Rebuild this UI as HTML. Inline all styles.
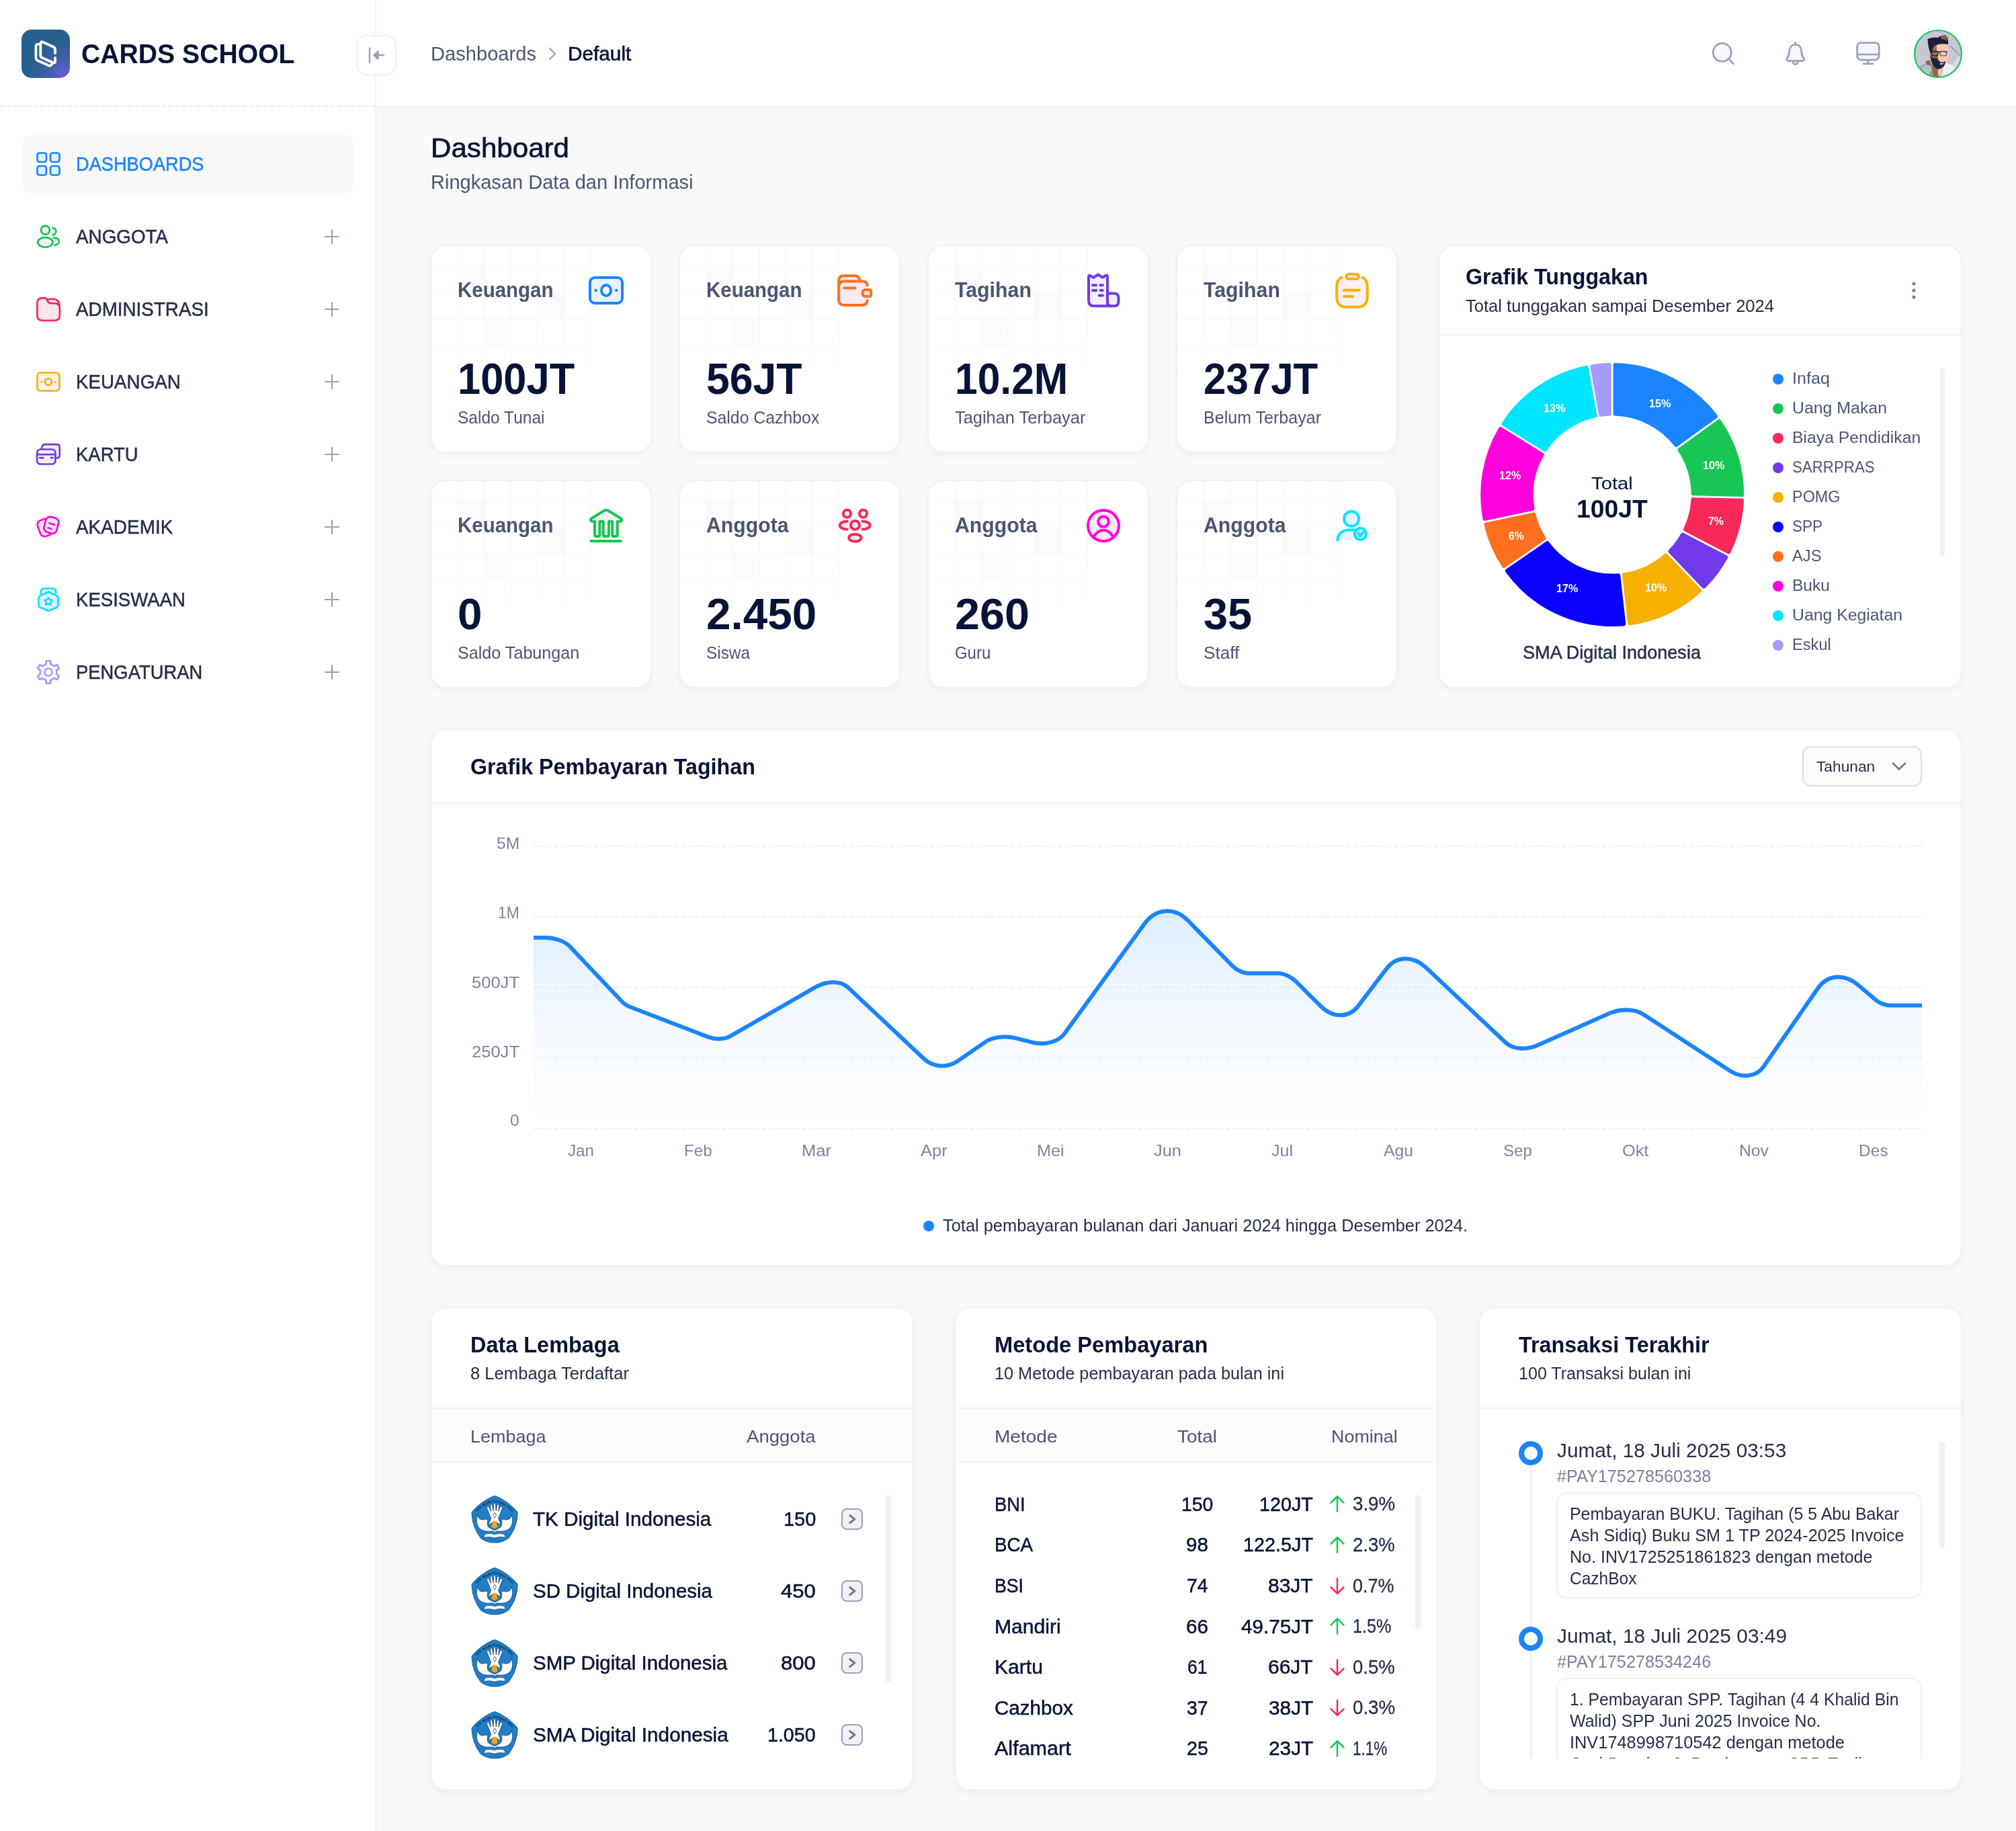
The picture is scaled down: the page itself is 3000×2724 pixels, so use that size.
<!DOCTYPE html>
<html lang="id"><head><meta charset="utf-8"><title>Cards School - Dashboard</title>
<style>
html,body{margin:0;padding:0;width:3000px;height:2724px;overflow:hidden;background:#f9f9f9;font-family:"Liberation Sans",sans-serif}
#root{position:relative;width:3000px;height:2724px;overflow:hidden}
.t{position:absolute;white-space:pre;line-height:1;font-family:"Liberation Sans",sans-serif;transform-origin:0 50%;z-index:2}
.card{position:absolute;background:#fff;border:2px solid #f1f1f4;border-radius:24px;box-shadow:0 6px 8px rgba(0,0,0,.03)}
</style></head><body><div id="root">
<div style="position:absolute;left:0px;top:0px;width:558px;height:2724px;background:#fff;border-right:2px solid #f1f1f4"></div>
<div style="position:absolute;left:560px;top:0px;width:2440px;height:158px;background:#fff;border-bottom:2px solid #f1f1f4"></div>
<div style="position:absolute;left:0;top:157px;width:558px;height:0;border-top:2px dashed #ececf0"></div>
<div style="position:absolute;left:32px;top:44px;width:72px;height:72px;border-radius:15px;background:radial-gradient(circle at 94% 98%,#7558e0 0%,#545dc0 16%,#36609f 36%,#27608f 58%);overflow:hidden"></div>
<svg style="position:absolute;left:32px;top:44px;overflow:visible" width="72" height="72" viewBox="0 0 72 72" fill="none" ><g stroke="#fff" stroke-width="3.8" stroke-linejoin="round" stroke-linecap="round" fill="none">
<path d="M50 35V29.500Q50 26.800 47.500 25.800L31.500 18.600Q28.300 17.300 28.300 20.800V38.500Q28.300 41 30.800 42L47 49.200Q50 50.500 50 47.200V42"/>
<path d="M26.500 21.800H24.500Q21.500 21.800 21.500 24.800V42Q21.500 44.800 24 46L40.500 53.400Q43.500 54.600 44.800 52L45.600 50.500"/>
</g></svg>
<div style="position:absolute;left:530px;top:52px;width:56px;height:56px;border:2px solid #f1f1f4;border-radius:16px;background:#fff"></div>
<svg style="position:absolute;left:546px;top:68px;overflow:visible" width="28" height="28" viewBox="0 0 28 28" fill="none" ><g stroke="#99a1b7" stroke-width="2.4" stroke-linecap="round" stroke-linejoin="round"><path d="M4 3.5V24.5"/><path d="M25 14H11"/><path d="M16.5 8.5L10.5 14L16.5 19.5Z" fill="#99a1b7"/></g></svg>
<div style="position:absolute;left:32px;top:200px;width:496px;height:88px;background:#f9f9f9;border-radius:20px"></div>
<svg style="position:absolute;left:483px;top:341px;overflow:visible" width="22" height="22" viewBox="0 0 22 22" fill="none" ><path d="M11 1V21M1 11H21" stroke="#99a1b7" stroke-width="2.2" stroke-linecap="round"/></svg>
<svg style="position:absolute;left:483px;top:449px;overflow:visible" width="22" height="22" viewBox="0 0 22 22" fill="none" ><path d="M11 1V21M1 11H21" stroke="#99a1b7" stroke-width="2.2" stroke-linecap="round"/></svg>
<svg style="position:absolute;left:483px;top:557px;overflow:visible" width="22" height="22" viewBox="0 0 22 22" fill="none" ><path d="M11 1V21M1 11H21" stroke="#99a1b7" stroke-width="2.2" stroke-linecap="round"/></svg>
<svg style="position:absolute;left:483px;top:665px;overflow:visible" width="22" height="22" viewBox="0 0 22 22" fill="none" ><path d="M11 1V21M1 11H21" stroke="#99a1b7" stroke-width="2.2" stroke-linecap="round"/></svg>
<svg style="position:absolute;left:483px;top:773px;overflow:visible" width="22" height="22" viewBox="0 0 22 22" fill="none" ><path d="M11 1V21M1 11H21" stroke="#99a1b7" stroke-width="2.2" stroke-linecap="round"/></svg>
<svg style="position:absolute;left:483px;top:881px;overflow:visible" width="22" height="22" viewBox="0 0 22 22" fill="none" ><path d="M11 1V21M1 11H21" stroke="#99a1b7" stroke-width="2.2" stroke-linecap="round"/></svg>
<svg style="position:absolute;left:483px;top:989px;overflow:visible" width="22" height="22" viewBox="0 0 22 22" fill="none" ><path d="M11 1V21M1 11H21" stroke="#99a1b7" stroke-width="2.2" stroke-linecap="round"/></svg>
<svg style="position:absolute;left:54px;top:226px;overflow:visible" width="36" height="36" viewBox="0 0 36 36" fill="none" ><g stroke="#1b84ff" stroke-width="2.7" fill="#e3eefd"><rect x="1.5" y="1.5" width="13.5" height="13.5" rx="3.6"/><rect x="21" y="1.5" width="13.5" height="13.5" rx="3.6"/><rect x="1.5" y="21" width="13.5" height="13.5" rx="3.6"/><rect x="21" y="21" width="13.5" height="13.5" rx="3.6"/></g></svg>
<svg style="position:absolute;left:54px;top:334px;overflow:visible" width="36" height="36" viewBox="0 0 36 36" fill="none" ><g stroke="#17c653" stroke-width="2.7" stroke-linecap="round" fill="#f1f1f5"><path d="M24.600 4.900A5.400 5.400 0 0 1 24.600 15.600Z" stroke="none"/><path d="M25.800 19.600Q34 20.500 33.800 25.500Q33.500 30 27.300 30.900Z" stroke="none"/><circle cx="13.500" cy="8.400" r="6.500"/><ellipse cx="13.300" cy="26.500" rx="11.100" ry="7.300"/><path d="M24.600 4.900A5.400 5.400 0 0 1 24.600 15.600" fill="none"/><path d="M25.800 19.600Q34 20.500 33.800 25.500Q33.500 30 27.300 30.900" fill="none"/></g></svg>
<svg style="position:absolute;left:54px;top:442px;overflow:visible" width="36" height="36" viewBox="0 0 36 36" fill="none" ><g stroke="#f8285a" stroke-width="2.7" stroke-linejoin="round" stroke-linecap="round"><path d="M14.800 3.060H26Q33.500 3.060 34.700 13" fill="#fff"/><path d="M1.350 9Q1.350 1.350 9 1.350H12Q15 1.350 16.500 5Q18 9.200 21 9.200H27Q34.800 9.200 34.800 17V27Q34.800 34.800 27 34.800H9Q1.350 34.800 1.350 27Z" fill="#ffe6ee"/></g></svg>
<svg style="position:absolute;left:54px;top:550px;overflow:visible" width="36" height="36" viewBox="0 0 36 36" fill="none" ><g stroke="#f6b100" stroke-width="2.7" fill="#fdf1ee"><rect x="1.500" y="4.500" width="33" height="27" rx="5"/><circle cx="18" cy="18" r="5" fill="none"/></g><circle cx="8" cy="18" r="1.600" fill="#f6b100"/><circle cx="28" cy="18" r="1.600" fill="#f6b100"/></svg>
<svg style="position:absolute;left:54px;top:658px;overflow:visible" width="36" height="36" viewBox="0 0 36 36" fill="none" ><g stroke="#7239ea" stroke-width="2.7" stroke-linejoin="round" stroke-linecap="round" fill="#eef1fc"><path d="M7.800 9.500L8.600 6.500Q9.500 3.200 13 3.200H30.500Q34.750 3.200 34.750 7.500V19.500Q34.750 23.500 30 23.500H28.400"/><rect x="1.100" y="10.500" width="27.300" height="22" rx="5"/><path d="M1.100 18.100H28.400" fill="none"/><path d="M5.100 23.100H10.500M21.900 23.100H24.600" fill="none"/></g></svg>
<svg style="position:absolute;left:54px;top:766px;overflow:visible" width="36" height="36" viewBox="0 0 36 36" fill="none" ><g stroke="#fb00da" stroke-width="2.7" stroke-linejoin="round" stroke-linecap="round" fill="#ffe8f4"><rect x="3.500" y="6.500" width="19" height="25" rx="6.500" transform="rotate(-20 13 19)"/><rect x="12.550" y="3.450" width="19.500" height="23.500" rx="6.500" transform="rotate(15 22.300 15.200)"/><path d="M19.300 12.200L27.300 14.900M17.400 19.100L22.300 21" fill="none"/></g></svg>
<svg style="position:absolute;left:54px;top:874px;overflow:visible" width="36" height="36" viewBox="0 0 36 36" fill="none" ><g stroke="#00e1ff" stroke-width="2.7" stroke-linejoin="round" fill="#e4f1fd"><path d="M7 10V6c0-3 1.500-4.500 4.500-4.500h13c3 0 4.500 1.500 4.500 4.500v4" fill="#eef2f8"/><path d="M18 6.500l12.500 6c1.500 .8 2 1.800 2 3.500v10c0 1.700-.500 2.700-2 3.500l-12.500 5.500-12.500-5.500c-1.500-.8-2-1.800-2-3.500v-10c0-1.700 .5-2.700 2-3.500z"/><path d="M18 15l2 3.300 3.800 .7-2.600 2.900 .5 3.900-3.700-1.700-3.700 1.700 .5-3.900-2.600-2.900 3.800-.7z" fill="#fff" stroke-width="2.600"/></g></svg>
<svg style="position:absolute;left:54px;top:982px;overflow:visible" width="36" height="36" viewBox="0 0 36 36" fill="none" ><g stroke="#a59bff" stroke-width="2.7" stroke-linejoin="round" fill="#f3f4fd"><path d="M14.31 6.06 L15.12 1.25 L20.88 1.25 L21.69 6.06 L26.49 8.83 L31.07 7.13 L33.95 12.11 L30.19 15.23 L30.19 20.77 L33.95 23.89 L31.07 28.87 L26.49 27.17 L21.69 29.94 L20.88 34.75 L15.12 34.75 L14.31 29.94 L9.51 27.17 L4.93 28.87 L2.05 23.89 L5.81 20.77 L5.81 15.23 L2.05 12.11 L4.93 7.13 L9.51 8.83Z" /><circle cx="18" cy="18" r="5.500" fill="#fff"/></g></svg>
<svg style="position:absolute;left:815px;top:70px;overflow:visible" width="14" height="20" viewBox="0 0 14 20" fill="none" ><path d="M3 2L11 10L3 18" stroke="#99a1b7" stroke-width="2.2" stroke-linecap="round" stroke-linejoin="round"/></svg>
<svg style="position:absolute;left:2547px;top:62px;overflow:visible" width="36" height="36" viewBox="0 0 36 36" fill="none" ><g stroke="#99a1b7" stroke-width="2.7" stroke-linecap="round"><circle cx="15.700" cy="15.900" r="13.500" fill="#f8f8fb"/><path d="M25.500 25.800L32.600 33"/></g></svg>
<svg style="position:absolute;left:2654px;top:60px;overflow:visible" width="36" height="40" viewBox="0 0 36 40" fill="none" ><g stroke="#99a1b7" stroke-width="2.7" stroke-linecap="round" stroke-linejoin="round"><path d="M17.700 3V6.500" /><path d="M17.700 6.500c-6 0-9 4.200-9 10 0 4.800-1.400 7.500-3.500 10.300-1.100 1.600-.4 3.800 1.900 3.800H28.300c2.300 0 3-2.200 1.900-3.800-2.100-2.800-3.500-5.500-3.500-10.300C26.700 10.700 23.700 6.500 17.700 6.500z" fill="#f8f8fb"/><path d="M14 31.500c.5 2.800 1.900 4.200 3.700 4.200s3.200-1.400 3.700-4.200"/></g></svg>
<svg style="position:absolute;left:2761px;top:61px;overflow:visible" width="38" height="38" viewBox="0 0 38 38" fill="none" ><g stroke="#99a1b7" stroke-width="2.7" stroke-linecap="round" stroke-linejoin="round"><rect x="2.600" y="2.600" width="32.600" height="25.500" rx="5.500" fill="#f4f5f9"/><path d="M3 20H35"/><path d="M19 28.500V33.500"/><path d="M12 33.800H26"/></g></svg>
<svg style="position:absolute;left:2848px;top:44px;overflow:visible" width="72" height="72" viewBox="0 0 72 72" fill="none" ><defs><clipPath id="avc"><circle cx="36" cy="36" r="34.500"/></clipPath><filter id="avb" x="-10%" y="-10%" width="120%" height="120%"><feGaussianBlur stdDeviation=".7"/></filter></defs>
<g clip-path="url(#avc)"><g filter="url(#avb)">
<rect width="72" height="72" fill="#c5c7d4"/>
<path d="M44 72L72 30V72Z" fill="#d9dbe4"/>
<path d="M54 24L70 40" stroke="#8a8da4" stroke-width="1.400"/>
<path d="M4 72L9 56L24 46L30 58L26 72Z" fill="#8b90a4"/>
<path d="M9 58L22 49L27 60L20 72L6 72Z" fill="#b9bdcb"/>
<path d="M40 72L46 50Q56 50 62 58L66 72Z" fill="#eceef3"/>
<path d="M17.500 47L24 45.500L25 53L20 53Z" fill="#91653f"/>
<path d="M27 52L44 52L41 62L37 72H29L28 62Z" fill="#94663f"/>
<path d="M36 60L44 54L40 66L36 70Z" fill="#f3c9ad"/>
<path d="M24 30Q24 20 36 20Q52 20 52 34Q52 46 46 52Q41 57 36 57Q30 57 26 48Q24 40 24 30Z" fill="#f5c9ab"/>
<path d="M24 30Q24 21 34 20.500Q33 30 36 40Q37 50 34 57Q29 55 26 48Q24 40 24 30Z" fill="#9c6c49"/>
<path d="M24 38Q28 44 33 42Q36 44 38 47Q42 50 47 47Q47 53 42 57Q37 60 32 57Q26 52 24 38Z" fill="#1d2140"/>
<path d="M39 49Q42 51 45 49Q43 53 39 52Z" fill="#f0b9a6"/>
<path d="M20.500 14Q28 11 36 12Q40 8 47 8.500Q52 12 51 22Q47 21 42 21.500Q34 21 30 25Q27 29 27.500 35L24.500 35Q21 26 20.500 14Z" fill="#1a1f3e"/>
<path d="M40 9Q46 8 49 10.500L49.500 18Q46 14 40 14Z" fill="#91602f"/>
<path d="M25 33.500Q31 31 37 33.500Q44 31.500 50 33.500" stroke="#1c2038" stroke-width="1.600" fill="none"/>
<rect x="26.500" y="32.500" width="9.500" height="6.500" rx="2.600" stroke="#1c2038" stroke-width="1.300" fill="none"/><rect x="39" y="32.500" width="9.500" height="6.500" rx="2.600" stroke="#4a4f68" stroke-width="1.100" fill="none"/>
</g></g><circle cx="36" cy="36" r="35" stroke="#17c653" stroke-width="2.200" fill="none"/></svg>
<div class="card" style="left:640px;top:364px;width:326px;height:306px"></div>
<svg style="position:absolute;left:642px;top:366px;overflow:visible" width="237" height="215" viewBox="0 0 237 215" fill="none" ><defs><linearGradient id="gm640_364" x1="0" y1="0" x2="0" y2="1"><stop offset="0" stop-color="#fff" stop-opacity="1"/><stop offset="0.5" stop-color="#fff" stop-opacity="1"/><stop offset="1" stop-color="#fff" stop-opacity="0"/></linearGradient><mask id="mgm640_364"><rect width="237" height="215" fill="url(#gm640_364)"/></mask></defs><g mask="url(#mgm640_364)"><rect x="39.4" y="29.5" width="39.4" height="39.4" fill="#fbfbfd"/><rect x="157.6" y="68.9" width="39.4" height="39.4" fill="#fbfbfd"/><rect x="78.8" y="108.3" width="39.4" height="39.4" fill="#fbfbfd"/><g stroke="#f7f7fa" stroke-width="1.4"><path d="M39.4 0V215" /><path d="M78.8 0V215" /><path d="M118.2 0V215" /><path d="M157.6 0V215" /><path d="M197.0 0V215" /><path d="M236.4 0V215" /><path d="M0 29.5H237" /><path d="M0 68.9H237" /><path d="M0 108.3H237" /><path d="M0 147.7H237" /><path d="M0 187.1H237" /><path d="M0 226.5H237" /></g></g></svg>
<div class="card" style="left:1010px;top:364px;width:326px;height:306px"></div>
<svg style="position:absolute;left:1012px;top:366px;overflow:visible" width="237" height="215" viewBox="0 0 237 215" fill="none" ><defs><linearGradient id="gm1010_364" x1="0" y1="0" x2="0" y2="1"><stop offset="0" stop-color="#fff" stop-opacity="1"/><stop offset="0.5" stop-color="#fff" stop-opacity="1"/><stop offset="1" stop-color="#fff" stop-opacity="0"/></linearGradient><mask id="mgm1010_364"><rect width="237" height="215" fill="url(#gm1010_364)"/></mask></defs><g mask="url(#mgm1010_364)"><rect x="39.4" y="29.5" width="39.4" height="39.4" fill="#fbfbfd"/><rect x="157.6" y="68.9" width="39.4" height="39.4" fill="#fbfbfd"/><rect x="78.8" y="108.3" width="39.4" height="39.4" fill="#fbfbfd"/><g stroke="#f7f7fa" stroke-width="1.4"><path d="M39.4 0V215" /><path d="M78.8 0V215" /><path d="M118.2 0V215" /><path d="M157.6 0V215" /><path d="M197.0 0V215" /><path d="M236.4 0V215" /><path d="M0 29.5H237" /><path d="M0 68.9H237" /><path d="M0 108.3H237" /><path d="M0 147.7H237" /><path d="M0 187.1H237" /><path d="M0 226.5H237" /></g></g></svg>
<div class="card" style="left:1380px;top:364px;width:326px;height:306px"></div>
<svg style="position:absolute;left:1382px;top:366px;overflow:visible" width="237" height="215" viewBox="0 0 237 215" fill="none" ><defs><linearGradient id="gm1380_364" x1="0" y1="0" x2="0" y2="1"><stop offset="0" stop-color="#fff" stop-opacity="1"/><stop offset="0.5" stop-color="#fff" stop-opacity="1"/><stop offset="1" stop-color="#fff" stop-opacity="0"/></linearGradient><mask id="mgm1380_364"><rect width="237" height="215" fill="url(#gm1380_364)"/></mask></defs><g mask="url(#mgm1380_364)"><rect x="39.4" y="29.5" width="39.4" height="39.4" fill="#fbfbfd"/><rect x="157.6" y="68.9" width="39.4" height="39.4" fill="#fbfbfd"/><rect x="78.8" y="108.3" width="39.4" height="39.4" fill="#fbfbfd"/><g stroke="#f7f7fa" stroke-width="1.4"><path d="M39.4 0V215" /><path d="M78.8 0V215" /><path d="M118.2 0V215" /><path d="M157.6 0V215" /><path d="M197.0 0V215" /><path d="M236.4 0V215" /><path d="M0 29.5H237" /><path d="M0 68.9H237" /><path d="M0 108.3H237" /><path d="M0 147.7H237" /><path d="M0 187.1H237" /><path d="M0 226.5H237" /></g></g></svg>
<div class="card" style="left:1750px;top:364px;width:326px;height:306px"></div>
<svg style="position:absolute;left:1752px;top:366px;overflow:visible" width="237" height="215" viewBox="0 0 237 215" fill="none" ><defs><linearGradient id="gm1750_364" x1="0" y1="0" x2="0" y2="1"><stop offset="0" stop-color="#fff" stop-opacity="1"/><stop offset="0.5" stop-color="#fff" stop-opacity="1"/><stop offset="1" stop-color="#fff" stop-opacity="0"/></linearGradient><mask id="mgm1750_364"><rect width="237" height="215" fill="url(#gm1750_364)"/></mask></defs><g mask="url(#mgm1750_364)"><rect x="39.4" y="29.5" width="39.4" height="39.4" fill="#fbfbfd"/><rect x="157.6" y="68.9" width="39.4" height="39.4" fill="#fbfbfd"/><rect x="78.8" y="108.3" width="39.4" height="39.4" fill="#fbfbfd"/><g stroke="#f7f7fa" stroke-width="1.4"><path d="M39.4 0V215" /><path d="M78.8 0V215" /><path d="M118.2 0V215" /><path d="M157.6 0V215" /><path d="M197.0 0V215" /><path d="M236.4 0V215" /><path d="M0 29.5H237" /><path d="M0 68.9H237" /><path d="M0 108.3H237" /><path d="M0 147.7H237" /><path d="M0 187.1H237" /><path d="M0 226.5H237" /></g></g></svg>
<div class="card" style="left:640px;top:714px;width:326px;height:306px"></div>
<svg style="position:absolute;left:642px;top:716px;overflow:visible" width="237" height="215" viewBox="0 0 237 215" fill="none" ><defs><linearGradient id="gm640_714" x1="0" y1="0" x2="0" y2="1"><stop offset="0" stop-color="#fff" stop-opacity="1"/><stop offset="0.5" stop-color="#fff" stop-opacity="1"/><stop offset="1" stop-color="#fff" stop-opacity="0"/></linearGradient><mask id="mgm640_714"><rect width="237" height="215" fill="url(#gm640_714)"/></mask></defs><g mask="url(#mgm640_714)"><rect x="39.4" y="29.5" width="39.4" height="39.4" fill="#fbfbfd"/><rect x="157.6" y="68.9" width="39.4" height="39.4" fill="#fbfbfd"/><rect x="78.8" y="108.3" width="39.4" height="39.4" fill="#fbfbfd"/><g stroke="#f7f7fa" stroke-width="1.4"><path d="M39.4 0V215" /><path d="M78.8 0V215" /><path d="M118.2 0V215" /><path d="M157.6 0V215" /><path d="M197.0 0V215" /><path d="M236.4 0V215" /><path d="M0 29.5H237" /><path d="M0 68.9H237" /><path d="M0 108.3H237" /><path d="M0 147.7H237" /><path d="M0 187.1H237" /><path d="M0 226.5H237" /></g></g></svg>
<div class="card" style="left:1010px;top:714px;width:326px;height:306px"></div>
<svg style="position:absolute;left:1012px;top:716px;overflow:visible" width="237" height="215" viewBox="0 0 237 215" fill="none" ><defs><linearGradient id="gm1010_714" x1="0" y1="0" x2="0" y2="1"><stop offset="0" stop-color="#fff" stop-opacity="1"/><stop offset="0.5" stop-color="#fff" stop-opacity="1"/><stop offset="1" stop-color="#fff" stop-opacity="0"/></linearGradient><mask id="mgm1010_714"><rect width="237" height="215" fill="url(#gm1010_714)"/></mask></defs><g mask="url(#mgm1010_714)"><rect x="39.4" y="29.5" width="39.4" height="39.4" fill="#fbfbfd"/><rect x="157.6" y="68.9" width="39.4" height="39.4" fill="#fbfbfd"/><rect x="78.8" y="108.3" width="39.4" height="39.4" fill="#fbfbfd"/><g stroke="#f7f7fa" stroke-width="1.4"><path d="M39.4 0V215" /><path d="M78.8 0V215" /><path d="M118.2 0V215" /><path d="M157.6 0V215" /><path d="M197.0 0V215" /><path d="M236.4 0V215" /><path d="M0 29.5H237" /><path d="M0 68.9H237" /><path d="M0 108.3H237" /><path d="M0 147.7H237" /><path d="M0 187.1H237" /><path d="M0 226.5H237" /></g></g></svg>
<div class="card" style="left:1380px;top:714px;width:326px;height:306px"></div>
<svg style="position:absolute;left:1382px;top:716px;overflow:visible" width="237" height="215" viewBox="0 0 237 215" fill="none" ><defs><linearGradient id="gm1380_714" x1="0" y1="0" x2="0" y2="1"><stop offset="0" stop-color="#fff" stop-opacity="1"/><stop offset="0.5" stop-color="#fff" stop-opacity="1"/><stop offset="1" stop-color="#fff" stop-opacity="0"/></linearGradient><mask id="mgm1380_714"><rect width="237" height="215" fill="url(#gm1380_714)"/></mask></defs><g mask="url(#mgm1380_714)"><rect x="39.4" y="29.5" width="39.4" height="39.4" fill="#fbfbfd"/><rect x="157.6" y="68.9" width="39.4" height="39.4" fill="#fbfbfd"/><rect x="78.8" y="108.3" width="39.4" height="39.4" fill="#fbfbfd"/><g stroke="#f7f7fa" stroke-width="1.4"><path d="M39.4 0V215" /><path d="M78.8 0V215" /><path d="M118.2 0V215" /><path d="M157.6 0V215" /><path d="M197.0 0V215" /><path d="M236.4 0V215" /><path d="M0 29.5H237" /><path d="M0 68.9H237" /><path d="M0 108.3H237" /><path d="M0 147.7H237" /><path d="M0 187.1H237" /><path d="M0 226.5H237" /></g></g></svg>
<div class="card" style="left:1750px;top:714px;width:326px;height:306px"></div>
<svg style="position:absolute;left:1752px;top:716px;overflow:visible" width="237" height="215" viewBox="0 0 237 215" fill="none" ><defs><linearGradient id="gm1750_714" x1="0" y1="0" x2="0" y2="1"><stop offset="0" stop-color="#fff" stop-opacity="1"/><stop offset="0.5" stop-color="#fff" stop-opacity="1"/><stop offset="1" stop-color="#fff" stop-opacity="0"/></linearGradient><mask id="mgm1750_714"><rect width="237" height="215" fill="url(#gm1750_714)"/></mask></defs><g mask="url(#mgm1750_714)"><rect x="39.4" y="29.5" width="39.4" height="39.4" fill="#fbfbfd"/><rect x="157.6" y="68.9" width="39.4" height="39.4" fill="#fbfbfd"/><rect x="78.8" y="108.3" width="39.4" height="39.4" fill="#fbfbfd"/><g stroke="#f7f7fa" stroke-width="1.4"><path d="M39.4 0V215" /><path d="M78.8 0V215" /><path d="M118.2 0V215" /><path d="M157.6 0V215" /><path d="M197.0 0V215" /><path d="M236.4 0V215" /><path d="M0 29.5H237" /><path d="M0 68.9H237" /><path d="M0 108.3H237" /><path d="M0 147.7H237" /><path d="M0 187.1H237" /><path d="M0 226.5H237" /></g></g></svg>
<svg style="position:absolute;left:876px;top:411px;overflow:visible" width="52" height="42" viewBox="0 0 52 42" fill="none" ><rect x="2" y="2" width="48" height="38" rx="7" stroke="#1b84ff" stroke-width="4" fill="#e9f3ff"/><ellipse cx="26" cy="21" rx="7" ry="8" stroke="#1b84ff" stroke-width="4" fill="#fff"/><circle cx="10.6" cy="21" r="2.2" fill="#1b84ff"/><circle cx="41.2" cy="21" r="2.2" fill="#1b84ff"/></svg>
<svg style="position:absolute;left:1246px;top:408px;overflow:visible" width="52" height="48" viewBox="0 0 52 48" fill="none" ><g stroke="#ff6f1e" stroke-width="4" stroke-linecap="round" stroke-linejoin="round">
<path d="M2.1 17 V9.5 Q2.1 2.2 9.5 2.2 H27 Q31.5 2.5 33.5 9" fill="#ffe9f1"/>
<path d="M44.700 16.500 Q44 10.400 37.500 10.400 H10 Q2.100 10.400 2.100 18 V38 Q2.100 45.900 10 45.900 H37 Q44 45.900 44.700 39" fill="#ffe9f1"/>
<path d="M10.300 20.500H26.400"/>
<path d="M42.500 22.900 H47.600 Q50.100 22.900 50.100 25.400 V30.500 Q50.100 33 47.600 33 H42.500 Q37.600 33 37.600 28 Q37.600 22.900 42.500 22.900Z" fill="#ffe9f1"/>
</g></svg>
<svg style="position:absolute;left:1618px;top:407px;overflow:visible" width="50" height="50" viewBox="0 0 50 50" fill="none" ><g stroke="#7239ea" stroke-width="4" stroke-linecap="round" stroke-linejoin="round">
<path d="M2 40 V5 Q2 1.800 4.500 3 L9 6 L16 1.500 L22.600 5.800 L27.500 2.800 Q30 1.800 30 5 V42 Q30 48.300 36 48.300 H10 Q2 48.300 2 40Z" fill="#eef1fb"/>
<path d="M30 29.500 H40 Q46.500 29.500 46.500 36 V41.500 Q46.500 48.300 40 48.300 H36 Q30 48.300 30 42Z" fill="#eef1fb"/>
<path d="M8 17.200H13.200M19.500 17.200H22.800M8 25H13.200M19.500 25H22.800M17.800 32.600H22.800"/>
</g></svg>
<svg style="position:absolute;left:1987px;top:405px;overflow:visible" width="50" height="54" viewBox="0 0 50 54" fill="none" ><g stroke="#f6b100" stroke-width="4" stroke-linecap="round" stroke-linejoin="round">
<path d="M9.300 7.600 Q2.200 11 2.200 22 V36 Q2.200 51.800 16 51.800 H34 Q47.700 51.800 47.700 36 V22 Q47.700 11 40.600 7.600" fill="#fdeef0"/>
<rect x="16.300" y="2.900" width="18.500" height="7" rx="3.500" fill="#fdeef0"/>
<path d="M12.900 26.800H35.900M12.900 36H25.900"/>
</g></svg>
<svg style="position:absolute;left:877px;top:756px;overflow:visible" width="50" height="52" viewBox="0 0 50 52" fill="none" ><g stroke="#17c653" stroke-width="4" stroke-linecap="round" stroke-linejoin="round">
<path d="M21.500 4 Q25 1.600 28.500 4 L46.500 15 Q49 17 47.500 19 Q46.800 19.800 45 19.800 H41.700 V39.500 Q41.700 42.100 39 42.100 H36.800 Q34.100 42.100 34.100 39.500 V19.800 H29 V39.500 Q29 42.100 26.300 42.100 H23.400 Q20.700 42.100 20.700 39.500 V19.800 H15.400 V39.500 Q15.400 42.100 12.700 42.100 H10.700 Q8 42.100 8 39.500 V19.800 H5 Q3.200 19.800 2.500 19 Q1 17 3.500 15Z" fill="#f1f1f6"/>
<path d="M2.200 49H46.800"/>
</g></svg>
<svg style="position:absolute;left:1247px;top:755px;overflow:visible" width="50" height="54" viewBox="0 0 50 54" fill="none" ><g stroke="#f8285a" stroke-width="4" stroke-linecap="round" fill="#ffe9ef">
<circle cx="13.400" cy="9.200" r="5.600"/><circle cx="37.500" cy="9.200" r="5.600"/>
<path d="M13.800 20.400 A11.200 6 0 0 0 13.800 32.400"/><path d="M36.600 20.400 A11.100 6 0 0 1 36.600 32.400"/>
<circle cx="25.400" cy="26.200" r="6.500"/>
<ellipse cx="25.400" cy="45.100" rx="9.200" ry="5.400"/>
</g></svg>
<svg style="position:absolute;left:1617px;top:756.8px;overflow:visible" width="50" height="50" viewBox="0 0 50 50" fill="none" ><g stroke="#ff00dd" stroke-width="4" stroke-linecap="round" fill="#ffe9f3">
<circle cx="25" cy="25" r="23"/><circle cx="25" cy="19" r="7.800" />
<path d="M10.700 40.800 Q17 31.700 25 31.700 Q33 31.700 39.300 40.800" fill="none"/>
</g></svg>
<svg style="position:absolute;left:1987px;top:757px;overflow:visible" width="50" height="50" viewBox="0 0 50 50" fill="none" ><path d="M3.300 46.500 Q5 31.300 22.300 31.300 H30 V46.500Z" fill="#e9f3ff"/>
<g stroke="#00e5ff" stroke-width="4" stroke-linecap="round" stroke-linejoin="round" fill="#e9f3ff">
<circle cx="24.100" cy="14.800" r="11"/>
<path d="M3.300 46.500 Q5 31.300 22.300 31.300 H28" fill="none"/>
<circle cx="37.500" cy="37.300" r="8.600"/>
<path d="M33.900 36 L37 40.300 L41.500 34.900" fill="none"/>
</g></svg>
<div class="card" style="left:2140px;top:364px;width:776px;height:656px"></div>
<div style="position:absolute;left:2142px;top:497px;width:776px;height:2px;background:#f1f1f4"></div>
<svg style="position:absolute;left:2843px;top:417px;overflow:visible" width="10" height="30" viewBox="0 0 10 30" fill="none" ><circle cx="5" cy="5" r="2.6" fill="#78829d"/><circle cx="5" cy="15" r="2.6" fill="#78829d"/><circle cx="5" cy="25" r="2.6" fill="#78829d"/></svg>
<svg style="position:absolute;left:0;top:0" width="3000" height="1100" viewBox="0 0 3000 1100"><g stroke-width="6.0" stroke-linejoin="round"><path d="M2403.60 543.05 A193.0 193.0 0 0 1 2553.12 619.56 L2494.29 661.99 A120.5 120.5 0 0 0 2403.60 615.58Z" fill="#1b84ff" stroke="#1b84ff"/><path d="M2558.27 626.70 A193.0 193.0 0 0 1 2592.20 735.98 L2519.69 734.33 A120.5 120.5 0 0 0 2499.44 669.13Z" fill="#17c653" stroke="#17c653"/><path d="M2592.00 744.78 A193.0 193.0 0 0 1 2572.38 821.19 L2508.05 787.70 A120.5 120.5 0 0 0 2519.49 743.13Z" fill="#f8285a" stroke="#f8285a"/><path d="M2568.32 829.00 A193.0 193.0 0 0 1 2535.45 872.69 L2485.43 820.17 A120.5 120.5 0 0 0 2503.98 795.51Z" fill="#7239ea" stroke="#7239ea"/><path d="M2529.08 878.76 A193.0 193.0 0 0 1 2425.08 927.26 L2417.00 855.18 A120.5 120.5 0 0 0 2479.06 826.24Z" fill="#f6b100" stroke="#f6b100"/><path d="M2416.34 928.24 A193.0 193.0 0 0 1 2242.87 849.19 L2302.58 808.00 A120.5 120.5 0 0 0 2408.25 856.16Z" fill="#0a00ff" stroke="#0a00ff"/><path d="M2237.88 841.94 A193.0 193.0 0 0 1 2211.38 780.42 L2282.33 765.34 A120.5 120.5 0 0 0 2297.58 800.76Z" fill="#ff6f1e" stroke="#ff6f1e"/><path d="M2209.55 771.81 A193.0 193.0 0 0 1 2232.89 638.06 L2294.54 676.28 A120.5 120.5 0 0 0 2280.50 756.73Z" fill="#fd00dc" stroke="#fd00dc"/><path d="M2237.53 630.58 A193.0 193.0 0 0 1 2360.70 546.88 L2373.55 618.26 A120.5 120.5 0 0 0 2299.17 668.80Z" fill="#00e5ff" stroke="#00e5ff"/><path d="M2369.36 545.32 A193.0 193.0 0 0 1 2394.80 543.05 L2394.80 615.58 A120.5 120.5 0 0 0 2382.21 616.70Z" fill="#a59bff" stroke="#a59bff"/></g></svg>
<div style="position:absolute;left:2638px;top:555.8px;width:16px;height:16px;background:#1b84ff;border-radius:50%"></div>
<div style="position:absolute;left:2638px;top:599.8px;width:16px;height:16px;background:#17c653;border-radius:50%"></div>
<div style="position:absolute;left:2638px;top:643.8px;width:16px;height:16px;background:#f8285a;border-radius:50%"></div>
<div style="position:absolute;left:2638px;top:687.8px;width:16px;height:16px;background:#7239ea;border-radius:50%"></div>
<div style="position:absolute;left:2638px;top:731.8px;width:16px;height:16px;background:#f6b100;border-radius:50%"></div>
<div style="position:absolute;left:2638px;top:775.8px;width:16px;height:16px;background:#0a00ff;border-radius:50%"></div>
<div style="position:absolute;left:2638px;top:819.8px;width:16px;height:16px;background:#ff6f1e;border-radius:50%"></div>
<div style="position:absolute;left:2638px;top:863.8px;width:16px;height:16px;background:#fd00dc;border-radius:50%"></div>
<div style="position:absolute;left:2638px;top:907.8px;width:16px;height:16px;background:#00e5ff;border-radius:50%"></div>
<div style="position:absolute;left:2638px;top:951.8px;width:16px;height:16px;background:#a59bff;border-radius:50%"></div>
<div style="position:absolute;left:2887px;top:548px;width:7px;height:280px;background:#f1f1f4;border-radius:4px"></div>
<div class="card" style="left:640px;top:1084px;width:2276px;height:796px"></div>
<div style="position:absolute;left:642px;top:1194px;width:2276px;height:2px;background:#f1f1f4"></div>
<div style="position:absolute;left:2682px;top:1110px;width:174px;height:56px;border:2px solid #dbdfe9;border-radius:12px;background:#fcfcfc"></div>
<svg style="position:absolute;left:2814px;top:1132px;overflow:visible" width="24" height="16" viewBox="0 0 24 16" fill="none" ><path d="M3 3.500L12 12.500L21 3.500" stroke="#717b95" stroke-width="2.700" stroke-linecap="round" stroke-linejoin="round"/></svg>
<svg style="position:absolute;left:0;top:1200px" width="3000" height="560" viewBox="0 1200 3000 560">
<defs><linearGradient id="lg1" x1="0" y1="1355" x2="0" y2="1679" gradientUnits="userSpaceOnUse"><stop offset="0" stop-color="#1b84ff" stop-opacity="0.15"/><stop offset="0.55" stop-color="#1b84ff" stop-opacity="0.04"/><stop offset="1" stop-color="#1b84ff" stop-opacity="0"/></linearGradient></defs>
<g stroke="#f0f0f4" stroke-width="2" stroke-dasharray="6 4"><path d="M794 1258.7H2860"/><path d="M794 1363.9H2860"/><path d="M794 1468.8H2860"/><path d="M794 1573.7H2860"/><path d="M794 1678.9H2860"/></g>
<path d="M794 1395.1 L813 1395.1 C826.1 1395.1 840.8 1400.6 848 1408.15 L926 1490.5 C928.6 1493.2 933.7 1496.4 938.3 1498.2 L1053.6 1542.6 C1064.4 1546.8 1078.1 1546.4 1086.3 1541.7 L1214.3 1468.2 C1231.2 1458.5 1251.2 1458.8 1262 1469 L1375 1575.3 C1388.5 1588.0 1409.8 1589.3 1425.6 1578.3 L1467.3 1549.4 C1477.2 1542.6 1496.0 1540.5 1512 1544.6 L1535.7 1550.6 C1554.8 1555.4 1575.0 1550.1 1583.8 1538 L1702.9 1374.4 C1720.1 1350.7 1747.6 1348.9 1768.3 1370 L1833.8 1436.9 C1840.0 1443.3 1850.0 1447.9 1857.6 1447.9 L1902.3 1447.9 C1910.3 1447.9 1921.6 1453.3 1929 1460.7 L1964.8 1496.4 C1983.5 1515.0 2007.2 1515.0 2021.3 1496.4 L2063 1441.4 C2077.8 1421.9 2102.7 1421.3 2122.5 1439.9 L2240.5 1551 C2251.0 1560.9 2270.9 1562.6 2288 1555 L2395 1507.6 C2411.7 1500.2 2433.1 1501.0 2446 1509.4 L2573.8 1592.7 C2592.4 1604.8 2613.6 1602.3 2624.4 1586.8 L2704.8 1470.7 C2719.0 1450.1 2744.0 1447.6 2764.3 1464.8 L2791 1487.4 C2796.7 1492.2 2805.5 1495.7 2812 1495.7 L2860 1495.7 L2860 1679 L794 1679Z" fill="url(#lg1)"/>
<path d="M794 1395.1 L813 1395.1 C826.1 1395.1 840.8 1400.6 848 1408.15 L926 1490.5 C928.6 1493.2 933.7 1496.4 938.3 1498.2 L1053.6 1542.6 C1064.4 1546.8 1078.1 1546.4 1086.3 1541.7 L1214.3 1468.2 C1231.2 1458.5 1251.2 1458.8 1262 1469 L1375 1575.3 C1388.5 1588.0 1409.8 1589.3 1425.6 1578.3 L1467.3 1549.4 C1477.2 1542.6 1496.0 1540.5 1512 1544.6 L1535.7 1550.6 C1554.8 1555.4 1575.0 1550.1 1583.8 1538 L1702.9 1374.4 C1720.1 1350.7 1747.6 1348.9 1768.3 1370 L1833.8 1436.9 C1840.0 1443.3 1850.0 1447.9 1857.6 1447.9 L1902.3 1447.9 C1910.3 1447.9 1921.6 1453.3 1929 1460.7 L1964.8 1496.4 C1983.5 1515.0 2007.2 1515.0 2021.3 1496.4 L2063 1441.4 C2077.8 1421.9 2102.7 1421.3 2122.5 1439.9 L2240.5 1551 C2251.0 1560.9 2270.9 1562.6 2288 1555 L2395 1507.6 C2411.7 1500.2 2433.1 1501.0 2446 1509.4 L2573.8 1592.7 C2592.4 1604.8 2613.6 1602.3 2624.4 1586.8 L2704.8 1470.7 C2719.0 1450.1 2744.0 1447.6 2764.3 1464.8 L2791 1487.4 C2796.7 1492.2 2805.5 1495.7 2812 1495.7 L2860 1495.7" stroke="#1b84ff" stroke-width="6" fill="none" stroke-linejoin="round"/>
</svg>
<div style="position:absolute;left:1374px;top:1815.5px;width:16px;height:16px;background:#1b84ff;border-radius:50%"></div>
<div class="card" style="left:640px;top:1944px;width:716px;height:716px"></div>
<div style="position:absolute;left:642px;top:2094px;width:716px;height:2px;background:#f1f1f4"></div>
<div class="card" style="left:1420px;top:1944px;width:716px;height:716px"></div>
<div style="position:absolute;left:1422px;top:2094px;width:716px;height:2px;background:#f1f1f4"></div>
<div class="card" style="left:2200px;top:1944px;width:716px;height:716px"></div>
<div style="position:absolute;left:2202px;top:2094px;width:716px;height:2px;background:#f1f1f4"></div>
<div style="position:absolute;left:642px;top:2096px;width:716px;height:78px;background:#fcfcfc"></div>
<div style="position:absolute;left:642px;top:2174px;width:716px;height:2px;background:#f1f1f4"></div>
<div style="position:absolute;left:1422px;top:2096px;width:716px;height:78px;background:#fcfcfc"></div>
<div style="position:absolute;left:1422px;top:2174px;width:716px;height:2px;background:#f1f1f4"></div>
<svg style="position:absolute;left:701px;top:2224.7px;overflow:visible" width="70" height="70" viewBox="0 0 70 70" fill="none" ><path d="M35.100 5.250A82 82 0 0 1 64.600 26.500A60 60 0 0 1 52.500 60A30.700 30.700 0 0 1 17.700 60A60 60 0 0 1 5.600 26.500A82 82 0 0 1 35.100 5.250Z" fill="#1b3f73" stroke="#1b3f73" stroke-width="10.200" stroke-linejoin="round"/>
<path d="M35.100 5.250A82 82 0 0 1 64.600 26.500A60 60 0 0 1 52.500 60A30.700 30.700 0 0 1 17.700 60A60 60 0 0 1 5.600 26.500A82 82 0 0 1 35.100 5.250Z" fill="#1f7fc9" stroke="#1f7fc9" stroke-width="9" stroke-linejoin="round"/>
<g font-family="Liberation Sans, sans-serif" font-size="5.3" font-weight="700" fill="#16294f"><text x="9.94" y="23.53" text-anchor="middle" transform="rotate(-45.1 9.94 23.53)">T</text><text x="12.59" y="21.02" text-anchor="middle" transform="rotate(-41.7 12.59 21.02)">U</text><text x="15.40" y="18.69" text-anchor="middle" transform="rotate(-37.9 15.40 18.69)">T</text><text x="20.20" y="15.37" text-anchor="middle" transform="rotate(-31.5 20.20 15.37)">W</text><text x="24.17" y="13.19" text-anchor="middle" transform="rotate(-26.1 24.17 13.19)">U</text><text x="27.78" y="11.61" text-anchor="middle" transform="rotate(-21.3 27.78 11.61)">R</text><text x="30.39" y="10.67" text-anchor="middle" transform="rotate(-18.0 30.39 10.67)">I</text><text x="34.60" y="9.51" text-anchor="middle" transform="rotate(-12.9 34.60 9.51)">H</text><text x="38.42" y="10.25" text-anchor="middle" transform="rotate(16.3 38.42 10.25)">A</text><text x="42.16" y="11.51" text-anchor="middle" transform="rotate(21.0 42.16 11.51)">N</text><text x="45.79" y="13.07" text-anchor="middle" transform="rotate(25.7 45.79 13.07)">D</text><text x="49.27" y="14.93" text-anchor="middle" transform="rotate(30.3 49.27 14.93)">A</text><text x="52.47" y="16.97" text-anchor="middle" transform="rotate(34.7 52.47 16.97)">Y</text><text x="55.51" y="19.25" text-anchor="middle" transform="rotate(38.8 55.51 19.25)">A</text><text x="58.50" y="21.83" text-anchor="middle" transform="rotate(42.8 58.50 21.83)">N</text><text x="60.48" y="23.76" text-anchor="middle" transform="rotate(45.4 60.48 23.76)">I</text></g>
<path d="M10 28Q6.500 38 10.500 46Q16 54.500 29 53Q33 52 35.100 55Q37 52 41 53Q54 54.500 59.500 46Q63.500 38 60 28Q59.500 36.500 51.500 36Q47 34.500 45 36.500Q47.500 43 43.500 47.500L35.100 52L26.500 47.500Q22.500 43 25 36.500Q23 34.500 18.500 36Q10.500 36.500 10 28Z" fill="#fff" stroke="#1a2f57" stroke-width=".7"/>
<path d="M23.200 17.500L26.500 15.800L29.200 23.500L28.500 13.500L31.200 12.800L33 23L33.800 11.600L35.100 11.300L36.300 11.600L37.200 23L39 12.800L41.600 13.500L41 23.500L43.700 15.800L47 17.500L40.500 34L44.500 43.500L35.100 38.500L25.500 43.500L29.700 34Z" fill="#fff" stroke="#1a2f57" stroke-width=".7" stroke-linejoin="round"/>
<path d="M35.100 37Q30 42.500 30.800 45.800Q31.700 48.800 35.100 48.800Q38.400 48.800 39.300 45.800Q40.100 42.500 35.100 37Z" fill="#f6a410"/>
<path d="M35.100 25.200L37.600 29.300L35.100 33.200L32.500 29.300Z" fill="#fff" stroke="#1a2f57" stroke-width=".8" stroke-linejoin="round"/>
<path d="M20.500 57.500Q28 55.300 35.100 57.800Q42 55.300 49.700 57.500L51 62.300Q42 60.300 35.100 63Q28 60.300 19.200 62.300Z" fill="#fff" stroke="#1a2f57" stroke-width=".6"/></svg>
<div style="position:absolute;left:1252px;top:2243.7px;width:28px;height:28px;border:2px solid #99a1b7;border-radius:8px;background:#f1f1f4"></div>
<svg style="position:absolute;left:1252px;top:2243.7px;overflow:visible" width="32" height="32" viewBox="0 0 32 32" fill="none" ><path d="M12.800 10.500L19.800 16L12.800 21.500" stroke="#6f7993" stroke-width="3" stroke-linecap="round" stroke-linejoin="round"/></svg>
<svg style="position:absolute;left:701px;top:2331.7px;overflow:visible" width="70" height="70" viewBox="0 0 70 70" fill="none" ><path d="M35.100 5.250A82 82 0 0 1 64.600 26.500A60 60 0 0 1 52.500 60A30.700 30.700 0 0 1 17.700 60A60 60 0 0 1 5.600 26.500A82 82 0 0 1 35.100 5.250Z" fill="#1b3f73" stroke="#1b3f73" stroke-width="10.200" stroke-linejoin="round"/>
<path d="M35.100 5.250A82 82 0 0 1 64.600 26.500A60 60 0 0 1 52.500 60A30.700 30.700 0 0 1 17.700 60A60 60 0 0 1 5.600 26.500A82 82 0 0 1 35.100 5.250Z" fill="#1f7fc9" stroke="#1f7fc9" stroke-width="9" stroke-linejoin="round"/>
<g font-family="Liberation Sans, sans-serif" font-size="5.3" font-weight="700" fill="#16294f"><text x="9.94" y="23.53" text-anchor="middle" transform="rotate(-45.1 9.94 23.53)">T</text><text x="12.59" y="21.02" text-anchor="middle" transform="rotate(-41.7 12.59 21.02)">U</text><text x="15.40" y="18.69" text-anchor="middle" transform="rotate(-37.9 15.40 18.69)">T</text><text x="20.20" y="15.37" text-anchor="middle" transform="rotate(-31.5 20.20 15.37)">W</text><text x="24.17" y="13.19" text-anchor="middle" transform="rotate(-26.1 24.17 13.19)">U</text><text x="27.78" y="11.61" text-anchor="middle" transform="rotate(-21.3 27.78 11.61)">R</text><text x="30.39" y="10.67" text-anchor="middle" transform="rotate(-18.0 30.39 10.67)">I</text><text x="34.60" y="9.51" text-anchor="middle" transform="rotate(-12.9 34.60 9.51)">H</text><text x="38.42" y="10.25" text-anchor="middle" transform="rotate(16.3 38.42 10.25)">A</text><text x="42.16" y="11.51" text-anchor="middle" transform="rotate(21.0 42.16 11.51)">N</text><text x="45.79" y="13.07" text-anchor="middle" transform="rotate(25.7 45.79 13.07)">D</text><text x="49.27" y="14.93" text-anchor="middle" transform="rotate(30.3 49.27 14.93)">A</text><text x="52.47" y="16.97" text-anchor="middle" transform="rotate(34.7 52.47 16.97)">Y</text><text x="55.51" y="19.25" text-anchor="middle" transform="rotate(38.8 55.51 19.25)">A</text><text x="58.50" y="21.83" text-anchor="middle" transform="rotate(42.8 58.50 21.83)">N</text><text x="60.48" y="23.76" text-anchor="middle" transform="rotate(45.4 60.48 23.76)">I</text></g>
<path d="M10 28Q6.500 38 10.500 46Q16 54.500 29 53Q33 52 35.100 55Q37 52 41 53Q54 54.500 59.500 46Q63.500 38 60 28Q59.500 36.500 51.500 36Q47 34.500 45 36.500Q47.500 43 43.500 47.500L35.100 52L26.500 47.500Q22.500 43 25 36.500Q23 34.500 18.500 36Q10.500 36.500 10 28Z" fill="#fff" stroke="#1a2f57" stroke-width=".7"/>
<path d="M23.200 17.500L26.500 15.800L29.200 23.500L28.500 13.500L31.200 12.800L33 23L33.800 11.600L35.100 11.300L36.300 11.600L37.200 23L39 12.800L41.600 13.500L41 23.500L43.700 15.800L47 17.500L40.500 34L44.500 43.500L35.100 38.500L25.500 43.500L29.700 34Z" fill="#fff" stroke="#1a2f57" stroke-width=".7" stroke-linejoin="round"/>
<path d="M35.100 37Q30 42.500 30.800 45.800Q31.700 48.800 35.100 48.800Q38.400 48.800 39.300 45.800Q40.100 42.500 35.100 37Z" fill="#f6a410"/>
<path d="M35.100 25.200L37.600 29.300L35.100 33.200L32.500 29.300Z" fill="#fff" stroke="#1a2f57" stroke-width=".8" stroke-linejoin="round"/>
<path d="M20.500 57.500Q28 55.300 35.100 57.800Q42 55.300 49.700 57.500L51 62.300Q42 60.300 35.100 63Q28 60.300 19.200 62.300Z" fill="#fff" stroke="#1a2f57" stroke-width=".6"/></svg>
<div style="position:absolute;left:1252px;top:2350.7px;width:28px;height:28px;border:2px solid #99a1b7;border-radius:8px;background:#f1f1f4"></div>
<svg style="position:absolute;left:1252px;top:2350.7px;overflow:visible" width="32" height="32" viewBox="0 0 32 32" fill="none" ><path d="M12.800 10.500L19.800 16L12.800 21.500" stroke="#6f7993" stroke-width="3" stroke-linecap="round" stroke-linejoin="round"/></svg>
<svg style="position:absolute;left:701px;top:2438.7px;overflow:visible" width="70" height="70" viewBox="0 0 70 70" fill="none" ><path d="M35.100 5.250A82 82 0 0 1 64.600 26.500A60 60 0 0 1 52.500 60A30.700 30.700 0 0 1 17.700 60A60 60 0 0 1 5.600 26.500A82 82 0 0 1 35.100 5.250Z" fill="#1b3f73" stroke="#1b3f73" stroke-width="10.200" stroke-linejoin="round"/>
<path d="M35.100 5.250A82 82 0 0 1 64.600 26.500A60 60 0 0 1 52.500 60A30.700 30.700 0 0 1 17.700 60A60 60 0 0 1 5.600 26.500A82 82 0 0 1 35.100 5.250Z" fill="#1f7fc9" stroke="#1f7fc9" stroke-width="9" stroke-linejoin="round"/>
<g font-family="Liberation Sans, sans-serif" font-size="5.3" font-weight="700" fill="#16294f"><text x="9.94" y="23.53" text-anchor="middle" transform="rotate(-45.1 9.94 23.53)">T</text><text x="12.59" y="21.02" text-anchor="middle" transform="rotate(-41.7 12.59 21.02)">U</text><text x="15.40" y="18.69" text-anchor="middle" transform="rotate(-37.9 15.40 18.69)">T</text><text x="20.20" y="15.37" text-anchor="middle" transform="rotate(-31.5 20.20 15.37)">W</text><text x="24.17" y="13.19" text-anchor="middle" transform="rotate(-26.1 24.17 13.19)">U</text><text x="27.78" y="11.61" text-anchor="middle" transform="rotate(-21.3 27.78 11.61)">R</text><text x="30.39" y="10.67" text-anchor="middle" transform="rotate(-18.0 30.39 10.67)">I</text><text x="34.60" y="9.51" text-anchor="middle" transform="rotate(-12.9 34.60 9.51)">H</text><text x="38.42" y="10.25" text-anchor="middle" transform="rotate(16.3 38.42 10.25)">A</text><text x="42.16" y="11.51" text-anchor="middle" transform="rotate(21.0 42.16 11.51)">N</text><text x="45.79" y="13.07" text-anchor="middle" transform="rotate(25.7 45.79 13.07)">D</text><text x="49.27" y="14.93" text-anchor="middle" transform="rotate(30.3 49.27 14.93)">A</text><text x="52.47" y="16.97" text-anchor="middle" transform="rotate(34.7 52.47 16.97)">Y</text><text x="55.51" y="19.25" text-anchor="middle" transform="rotate(38.8 55.51 19.25)">A</text><text x="58.50" y="21.83" text-anchor="middle" transform="rotate(42.8 58.50 21.83)">N</text><text x="60.48" y="23.76" text-anchor="middle" transform="rotate(45.4 60.48 23.76)">I</text></g>
<path d="M10 28Q6.500 38 10.500 46Q16 54.500 29 53Q33 52 35.100 55Q37 52 41 53Q54 54.500 59.500 46Q63.500 38 60 28Q59.500 36.500 51.500 36Q47 34.500 45 36.500Q47.500 43 43.500 47.500L35.100 52L26.500 47.500Q22.500 43 25 36.500Q23 34.500 18.500 36Q10.500 36.500 10 28Z" fill="#fff" stroke="#1a2f57" stroke-width=".7"/>
<path d="M23.200 17.500L26.500 15.800L29.200 23.500L28.500 13.500L31.200 12.800L33 23L33.800 11.600L35.100 11.300L36.300 11.600L37.200 23L39 12.800L41.600 13.500L41 23.500L43.700 15.800L47 17.500L40.500 34L44.500 43.500L35.100 38.500L25.500 43.500L29.700 34Z" fill="#fff" stroke="#1a2f57" stroke-width=".7" stroke-linejoin="round"/>
<path d="M35.100 37Q30 42.500 30.800 45.800Q31.700 48.800 35.100 48.800Q38.400 48.800 39.300 45.800Q40.100 42.500 35.100 37Z" fill="#f6a410"/>
<path d="M35.100 25.200L37.600 29.300L35.100 33.200L32.500 29.300Z" fill="#fff" stroke="#1a2f57" stroke-width=".8" stroke-linejoin="round"/>
<path d="M20.500 57.500Q28 55.300 35.100 57.800Q42 55.300 49.700 57.500L51 62.300Q42 60.300 35.100 63Q28 60.300 19.200 62.300Z" fill="#fff" stroke="#1a2f57" stroke-width=".6"/></svg>
<div style="position:absolute;left:1252px;top:2457.7px;width:28px;height:28px;border:2px solid #99a1b7;border-radius:8px;background:#f1f1f4"></div>
<svg style="position:absolute;left:1252px;top:2457.7px;overflow:visible" width="32" height="32" viewBox="0 0 32 32" fill="none" ><path d="M12.800 10.500L19.800 16L12.800 21.500" stroke="#6f7993" stroke-width="3" stroke-linecap="round" stroke-linejoin="round"/></svg>
<svg style="position:absolute;left:701px;top:2545.7px;overflow:visible" width="70" height="70" viewBox="0 0 70 70" fill="none" ><path d="M35.100 5.250A82 82 0 0 1 64.600 26.500A60 60 0 0 1 52.500 60A30.700 30.700 0 0 1 17.700 60A60 60 0 0 1 5.600 26.500A82 82 0 0 1 35.100 5.250Z" fill="#1b3f73" stroke="#1b3f73" stroke-width="10.200" stroke-linejoin="round"/>
<path d="M35.100 5.250A82 82 0 0 1 64.600 26.500A60 60 0 0 1 52.500 60A30.700 30.700 0 0 1 17.700 60A60 60 0 0 1 5.600 26.500A82 82 0 0 1 35.100 5.250Z" fill="#1f7fc9" stroke="#1f7fc9" stroke-width="9" stroke-linejoin="round"/>
<g font-family="Liberation Sans, sans-serif" font-size="5.3" font-weight="700" fill="#16294f"><text x="9.94" y="23.53" text-anchor="middle" transform="rotate(-45.1 9.94 23.53)">T</text><text x="12.59" y="21.02" text-anchor="middle" transform="rotate(-41.7 12.59 21.02)">U</text><text x="15.40" y="18.69" text-anchor="middle" transform="rotate(-37.9 15.40 18.69)">T</text><text x="20.20" y="15.37" text-anchor="middle" transform="rotate(-31.5 20.20 15.37)">W</text><text x="24.17" y="13.19" text-anchor="middle" transform="rotate(-26.1 24.17 13.19)">U</text><text x="27.78" y="11.61" text-anchor="middle" transform="rotate(-21.3 27.78 11.61)">R</text><text x="30.39" y="10.67" text-anchor="middle" transform="rotate(-18.0 30.39 10.67)">I</text><text x="34.60" y="9.51" text-anchor="middle" transform="rotate(-12.9 34.60 9.51)">H</text><text x="38.42" y="10.25" text-anchor="middle" transform="rotate(16.3 38.42 10.25)">A</text><text x="42.16" y="11.51" text-anchor="middle" transform="rotate(21.0 42.16 11.51)">N</text><text x="45.79" y="13.07" text-anchor="middle" transform="rotate(25.7 45.79 13.07)">D</text><text x="49.27" y="14.93" text-anchor="middle" transform="rotate(30.3 49.27 14.93)">A</text><text x="52.47" y="16.97" text-anchor="middle" transform="rotate(34.7 52.47 16.97)">Y</text><text x="55.51" y="19.25" text-anchor="middle" transform="rotate(38.8 55.51 19.25)">A</text><text x="58.50" y="21.83" text-anchor="middle" transform="rotate(42.8 58.50 21.83)">N</text><text x="60.48" y="23.76" text-anchor="middle" transform="rotate(45.4 60.48 23.76)">I</text></g>
<path d="M10 28Q6.500 38 10.500 46Q16 54.500 29 53Q33 52 35.100 55Q37 52 41 53Q54 54.500 59.500 46Q63.500 38 60 28Q59.500 36.500 51.500 36Q47 34.500 45 36.500Q47.500 43 43.500 47.500L35.100 52L26.500 47.500Q22.500 43 25 36.500Q23 34.500 18.500 36Q10.500 36.500 10 28Z" fill="#fff" stroke="#1a2f57" stroke-width=".7"/>
<path d="M23.200 17.500L26.500 15.800L29.200 23.500L28.500 13.500L31.200 12.800L33 23L33.800 11.600L35.100 11.300L36.300 11.600L37.200 23L39 12.800L41.600 13.500L41 23.500L43.700 15.800L47 17.500L40.500 34L44.500 43.500L35.100 38.500L25.500 43.500L29.700 34Z" fill="#fff" stroke="#1a2f57" stroke-width=".7" stroke-linejoin="round"/>
<path d="M35.100 37Q30 42.500 30.800 45.800Q31.700 48.800 35.100 48.800Q38.400 48.800 39.300 45.800Q40.100 42.500 35.100 37Z" fill="#f6a410"/>
<path d="M35.100 25.200L37.600 29.300L35.100 33.200L32.500 29.300Z" fill="#fff" stroke="#1a2f57" stroke-width=".8" stroke-linejoin="round"/>
<path d="M20.500 57.500Q28 55.300 35.100 57.800Q42 55.300 49.700 57.500L51 62.300Q42 60.300 35.100 63Q28 60.300 19.200 62.300Z" fill="#fff" stroke="#1a2f57" stroke-width=".6"/></svg>
<div style="position:absolute;left:1252px;top:2564.7px;width:28px;height:28px;border:2px solid #99a1b7;border-radius:8px;background:#f1f1f4"></div>
<svg style="position:absolute;left:1252px;top:2564.7px;overflow:visible" width="32" height="32" viewBox="0 0 32 32" fill="none" ><path d="M12.800 10.500L19.800 16L12.800 21.500" stroke="#6f7993" stroke-width="3" stroke-linecap="round" stroke-linejoin="round"/></svg>
<div style="position:absolute;left:1318px;top:2224px;width:7.5px;height:279px;background:#f1f1f4;border-radius:4px"></div>
<svg style="position:absolute;left:1978px;top:2224.4px;overflow:visible" width="24" height="26" viewBox="0 0 24 26" fill="none" ><path d="M12 24.500V2.500M2.500 11.700L12 2.200L21.500 11.700" stroke="#17c653" stroke-width="2.500" stroke-linecap="round" stroke-linejoin="round"/></svg>
<svg style="position:absolute;left:1978px;top:2285.0px;overflow:visible" width="24" height="26" viewBox="0 0 24 26" fill="none" ><path d="M12 24.500V2.500M2.500 11.700L12 2.200L21.500 11.700" stroke="#17c653" stroke-width="2.500" stroke-linecap="round" stroke-linejoin="round"/></svg>
<svg style="position:absolute;left:1978px;top:2346.6px;overflow:visible" width="24" height="26" viewBox="0 0 24 26" fill="none" ><path d="M12 1.500V23.500M2.500 14.300L12 23.800L21.500 14.300" stroke="#f8285a" stroke-width="2.500" stroke-linecap="round" stroke-linejoin="round"/></svg>
<svg style="position:absolute;left:1978px;top:2406.2000000000003px;overflow:visible" width="24" height="26" viewBox="0 0 24 26" fill="none" ><path d="M12 24.500V2.500M2.500 11.700L12 2.200L21.500 11.700" stroke="#17c653" stroke-width="2.500" stroke-linecap="round" stroke-linejoin="round"/></svg>
<svg style="position:absolute;left:1978px;top:2467.8px;overflow:visible" width="24" height="26" viewBox="0 0 24 26" fill="none" ><path d="M12 1.500V23.500M2.500 14.300L12 23.800L21.500 14.300" stroke="#f8285a" stroke-width="2.500" stroke-linecap="round" stroke-linejoin="round"/></svg>
<svg style="position:absolute;left:1978px;top:2528.4px;overflow:visible" width="24" height="26" viewBox="0 0 24 26" fill="none" ><path d="M12 1.500V23.500M2.500 14.300L12 23.800L21.500 14.300" stroke="#f8285a" stroke-width="2.500" stroke-linecap="round" stroke-linejoin="round"/></svg>
<svg style="position:absolute;left:1978px;top:2588.0px;overflow:visible" width="24" height="26" viewBox="0 0 24 26" fill="none" ><path d="M12 24.500V2.500M2.500 11.700L12 2.200L21.500 11.700" stroke="#17c653" stroke-width="2.500" stroke-linecap="round" stroke-linejoin="round"/></svg>
<div style="position:absolute;left:2106px;top:2224px;width:7.5px;height:200px;background:#f1f1f4;border-radius:4px"></div>
<div style="position:absolute;left:2277px;top:2162px;width:2px;height:454px;background:#e4e6ee"></div>
<div style="position:absolute;left:2260px;top:2144px;width:20px;height:20px;border:8px solid #1b84ff;border-radius:50%;background:#fff"></div>
<div style="position:absolute;left:2316px;top:2219.7px;width:540px;height:154px;border:2px solid #f1f1f4;border-radius:16px;background:#fff"></div>
<div style="position:absolute;left:2260px;top:2420px;width:20px;height:20px;border:8px solid #1b84ff;border-radius:50%;background:#fff"></div>
<div style="position:absolute;left:2316px;top:2495.7px;width:540px;height:154px;border:2px solid #f1f1f4;border-radius:16px;background:#fff"></div>
<div style="position:absolute;left:2204px;top:2616px;width:712px;height:44px;background:#fff;z-index:5;border-radius:0 0 22px 22px"></div>
<div style="position:absolute;left:2886px;top:2144px;width:7.5px;height:159px;background:#f1f1f4;border-radius:4px"></div>
<span class="t" style="left:120.50px;top:59.89px;font-size:41px;color:#071437;font-weight:700;transform:scaleX(0.9547);">CARDS SCHOOL</span>
<span class="t" style="left:112.70px;top:229.03px;font-size:29.5px;color:#1b84ff;transform:scaleX(0.9223);-webkit-text-stroke:0.5px #1b84ff;">DASHBOARDS</span>
<span class="t" style="left:112.70px;top:337.03px;font-size:29.5px;color:#252f4a;transform:scaleX(0.9427);-webkit-text-stroke:0.5px #252f4a;">ANGGOTA</span>
<span class="t" style="left:112.70px;top:445.03px;font-size:29.5px;color:#252f4a;transform:scaleX(0.9427);-webkit-text-stroke:0.5px #252f4a;">ADMINISTRASI</span>
<span class="t" style="left:112.70px;top:553.03px;font-size:29.5px;color:#252f4a;transform:scaleX(0.9409);-webkit-text-stroke:0.5px #252f4a;">KEUANGAN</span>
<span class="t" style="left:112.70px;top:661.03px;font-size:29.5px;color:#252f4a;transform:scaleX(0.9311);-webkit-text-stroke:0.5px #252f4a;">KARTU</span>
<span class="t" style="left:112.70px;top:769.03px;font-size:29.5px;color:#252f4a;transform:scaleX(0.9464);-webkit-text-stroke:0.5px #252f4a;">AKADEMIK</span>
<span class="t" style="left:112.70px;top:877.03px;font-size:29.5px;color:#252f4a;transform:scaleX(0.9351);-webkit-text-stroke:0.5px #252f4a;">KESISWAAN</span>
<span class="t" style="left:112.70px;top:985.03px;font-size:29.5px;color:#252f4a;transform:scaleX(0.9289);-webkit-text-stroke:0.5px #252f4a;">PENGATURAN</span>
<span class="t" style="left:641.00px;top:65.65px;font-size:29px;color:#4b5675;transform:scaleX(1.0040);">Dashboards</span>
<span class="t" style="left:845.00px;top:65.65px;font-size:29px;color:#071437;transform:scaleX(1.0262);-webkit-text-stroke:0.6px #071437;">Default</span>
<span class="t" style="left:641.00px;top:199.84px;font-size:41.3px;color:#071437;transform:scaleX(1.0196);-webkit-text-stroke:0.7px #071437;">Dashboard</span>
<span class="t" style="left:641.00px;top:255.93px;font-size:29.5px;color:#4b5675;transform:scaleX(0.9841);">Ringkasan Data dan Informasi</span>
<span class="t" style="left:681.40px;top:415.80px;font-size:31.3px;color:#4b5675;font-weight:700;transform:scaleX(0.9412);">Keuangan</span>
<span class="t" style="left:681.00px;top:532.25px;font-size:64.2px;color:#071437;font-weight:700;transform:scaleX(0.9571);">100JT</span>
<span class="t" style="left:681.40px;top:608.84px;font-size:25px;color:#4b5675;transform:scaleX(0.9807);">Saldo Tunai</span>
<span class="t" style="left:1051.40px;top:415.80px;font-size:31.3px;color:#4b5675;font-weight:700;transform:scaleX(0.9412);">Keuangan</span>
<span class="t" style="left:1051.00px;top:532.25px;font-size:64.2px;color:#071437;font-weight:700;transform:scaleX(0.9739);">56JT</span>
<span class="t" style="left:1051.40px;top:608.84px;font-size:25px;color:#4b5675;transform:scaleX(0.9926);">Saldo Cazhbox</span>
<span class="t" style="left:1421.40px;top:415.80px;font-size:31.3px;color:#4b5675;font-weight:700;transform:scaleX(0.9681);">Tagihan</span>
<span class="t" style="left:1421.00px;top:532.25px;font-size:64.2px;color:#071437;font-weight:700;transform:scaleX(0.9434);">10.2M</span>
<span class="t" style="left:1421.40px;top:608.84px;font-size:25px;color:#4b5675;transform:scaleX(1.0160);">Tagihan Terbayar</span>
<span class="t" style="left:1791.40px;top:415.80px;font-size:31.3px;color:#4b5675;font-weight:700;transform:scaleX(0.9681);">Tagihan</span>
<span class="t" style="left:1791.00px;top:532.25px;font-size:64.2px;color:#071437;font-weight:700;transform:scaleX(0.9351);">237JT</span>
<span class="t" style="left:1791.40px;top:608.84px;font-size:25px;color:#4b5675;transform:scaleX(1.0021);">Belum Terbayar</span>
<span class="t" style="left:681.40px;top:765.80px;font-size:31.3px;color:#4b5675;font-weight:700;transform:scaleX(0.9412);">Keuangan</span>
<span class="t" style="left:681.00px;top:882.25px;font-size:64.2px;color:#071437;font-weight:700;transform:scaleX(1.0223);">0</span>
<span class="t" style="left:681.40px;top:958.84px;font-size:25px;color:#4b5675;transform:scaleX(1.0057);">Saldo Tabungan</span>
<span class="t" style="left:1051.40px;top:765.80px;font-size:31.3px;color:#4b5675;font-weight:700;transform:scaleX(0.9661);">Anggota</span>
<span class="t" style="left:1051.00px;top:882.25px;font-size:64.2px;color:#071437;font-weight:700;transform:scaleX(1.0228);">2.450</span>
<span class="t" style="left:1051.40px;top:958.84px;font-size:25px;color:#4b5675;transform:scaleX(0.9747);">Siswa</span>
<span class="t" style="left:1421.40px;top:765.80px;font-size:31.3px;color:#4b5675;font-weight:700;transform:scaleX(0.9661);">Anggota</span>
<span class="t" style="left:1421.00px;top:882.25px;font-size:64.2px;color:#071437;font-weight:700;transform:scaleX(1.0363);">260</span>
<span class="t" style="left:1421.40px;top:958.84px;font-size:25px;color:#4b5675;transform:scaleX(0.9569);">Guru</span>
<span class="t" style="left:1791.40px;top:765.80px;font-size:31.3px;color:#4b5675;font-weight:700;transform:scaleX(0.9661);">Anggota</span>
<span class="t" style="left:1791.00px;top:882.25px;font-size:64.2px;color:#071437;font-weight:700;transform:scaleX(1.0111);">35</span>
<span class="t" style="left:1791.40px;top:958.84px;font-size:25px;color:#4b5675;transform:scaleX(1.0438);">Staff</span>
<span class="t" style="left:2181.00px;top:395.19px;font-size:33.8px;color:#071437;font-weight:700;transform:scaleX(0.9532);">Grafik Tunggakan</span>
<span class="t" style="left:2181.00px;top:442.81px;font-size:25.5px;color:#252f4a;transform:scaleX(1.0025);">Total tunggakan sampai Desember 2024</span>
<span class="t" style="left:2453.90px;top:591.83px;font-size:16.5px;color:#fff;font-weight:700;transform:scaleX(0.9809);">15%</span>
<span class="t" style="left:2534.20px;top:684.43px;font-size:16.5px;color:#fff;font-weight:700;transform:scaleX(0.9809);">10%</span>
<span class="t" style="left:2542.40px;top:766.83px;font-size:16.5px;color:#fff;font-weight:700;transform:scaleX(0.9640);">7%</span>
<span class="t" style="left:2448.20px;top:866.43px;font-size:16.5px;color:#fff;font-weight:700;transform:scaleX(0.9809);">10%</span>
<span class="t" style="left:2316.40px;top:866.83px;font-size:16.5px;color:#fff;font-weight:700;transform:scaleX(0.9809);">17%</span>
<span class="t" style="left:2244.70px;top:788.73px;font-size:16.5px;color:#fff;font-weight:700;transform:scaleX(0.9640);">6%</span>
<span class="t" style="left:2231.30px;top:698.83px;font-size:16.5px;color:#fff;font-weight:700;transform:scaleX(0.9809);">12%</span>
<span class="t" style="left:2297.20px;top:599.23px;font-size:16.5px;color:#fff;font-weight:700;transform:scaleX(0.9809);">13%</span>
<span class="t" style="left:2368.30px;top:705.89px;font-size:26px;color:#071437;transform:scaleX(1.1252);">Total</span>
<span class="t" style="left:2345.80px;top:738.68px;font-size:37px;color:#071437;font-weight:700;transform:scaleX(1.0084);">100JT</span>
<span class="t" style="left:2265.50px;top:957.94px;font-size:27px;color:#252f4a;transform:scaleX(1.0032);-webkit-text-stroke:0.5px #252f4a;">SMA Digital Indonesia</span>
<span class="t" style="left:2666.50px;top:551.39px;font-size:24.7px;color:#4b5675;transform:scaleX(1.0178);">Infaq</span>
<span class="t" style="left:2666.50px;top:595.39px;font-size:24.7px;color:#4b5675;transform:scaleX(1.0073);">Uang Makan</span>
<span class="t" style="left:2666.50px;top:639.39px;font-size:24.7px;color:#4b5675;transform:scaleX(1.0025);">Biaya Pendidikan</span>
<span class="t" style="left:2666.50px;top:683.39px;font-size:24.7px;color:#4b5675;transform:scaleX(0.9033);">SARRPRAS</span>
<span class="t" style="left:2666.50px;top:727.39px;font-size:24.7px;color:#4b5675;transform:scaleX(0.9491);">POMG</span>
<span class="t" style="left:2666.50px;top:771.39px;font-size:24.7px;color:#4b5675;transform:scaleX(0.9108);">SPP</span>
<span class="t" style="left:2666.50px;top:815.39px;font-size:24.7px;color:#4b5675;transform:scaleX(0.9629);">AJS</span>
<span class="t" style="left:2666.50px;top:859.39px;font-size:24.7px;color:#4b5675;transform:scaleX(0.9932);">Buku</span>
<span class="t" style="left:2666.50px;top:903.39px;font-size:24.7px;color:#4b5675;transform:scaleX(1.0046);">Uang Kegiatan</span>
<span class="t" style="left:2666.50px;top:947.39px;font-size:24.7px;color:#4b5675;transform:scaleX(0.9573);">Eskul</span>
<span class="t" style="left:700.40px;top:1123.69px;font-size:33.8px;color:#071437;font-weight:700;transform:scaleX(0.9534);">Grafik Pembayaran Tagihan</span>
<span class="t" style="left:2703.00px;top:1129.18px;font-size:22.7px;color:#252f4a;transform:scaleX(1.0025);">Tahunan</span>
<span class="t" style="left:738.70px;top:1242.86px;font-size:24.5px;color:#7b859f;transform:scaleX(1.0074);">5M</span>
<span class="t" style="left:741.20px;top:1346.26px;font-size:24.5px;color:#7b859f;transform:scaleX(0.9340);">1M</span>
<span class="t" style="left:702.00px;top:1449.56px;font-size:24.5px;color:#7b859f;transform:scaleX(1.0427);">500JT</span>
<span class="t" style="left:702.00px;top:1552.66px;font-size:24.5px;color:#7b859f;transform:scaleX(1.0427);">250JT</span>
<span class="t" style="left:759.20px;top:1655.06px;font-size:24.5px;color:#7b859f;transform:scaleX(1.0117);">0</span>
<span class="t" style="left:845.05px;top:1699.96px;font-size:24.5px;color:#7b859f;transform:scaleX(0.9895);">Jan</span>
<span class="t" style="left:1018.15px;top:1699.96px;font-size:24.5px;color:#7b859f;transform:scaleX(0.9877);">Feb</span>
<span class="t" style="left:1192.60px;top:1699.96px;font-size:24.5px;color:#7b859f;transform:scaleX(1.0426);">Mar</span>
<span class="t" style="left:1369.65px;top:1699.96px;font-size:24.5px;color:#7b859f;transform:scaleX(1.0461);">Apr</span>
<span class="t" style="left:1542.65px;top:1699.96px;font-size:24.5px;color:#7b859f;transform:scaleX(1.0257);">Mei</span>
<span class="t" style="left:1716.80px;top:1699.96px;font-size:24.5px;color:#7b859f;transform:scaleX(1.0376);">Jun</span>
<span class="t" style="left:1892.30px;top:1699.96px;font-size:24.5px;color:#7b859f;transform:scaleX(1.0214);">Jul</span>
<span class="t" style="left:2059.00px;top:1699.96px;font-size:24.5px;color:#7b859f;transform:scaleX(1.0093);">Agu</span>
<span class="t" style="left:2236.85px;top:1699.96px;font-size:24.5px;color:#7b859f;transform:scaleX(0.9841);">Sep</span>
<span class="t" style="left:2414.25px;top:1699.96px;font-size:24.5px;color:#7b859f;transform:scaleX(1.0308);">Okt</span>
<span class="t" style="left:2588.00px;top:1699.96px;font-size:24.5px;color:#7b859f;transform:scaleX(1.0097);">Nov</span>
<span class="t" style="left:2766.25px;top:1699.96px;font-size:24.5px;color:#7b859f;transform:scaleX(1.0025);">Des</span>
<span class="t" style="left:1402.70px;top:1810.67px;font-size:25.2px;color:#252f4a;transform:scaleX(1.0086);">Total pembayaran bulanan dari Januari 2024 hingga Desember 2024.</span>
<span class="t" style="left:700.40px;top:1983.59px;font-size:33.8px;color:#071437;font-weight:700;transform:scaleX(0.9596);">Data Lembaga</span>
<span class="t" style="left:700.40px;top:2031.11px;font-size:25.5px;color:#252f4a;transform:scaleX(1.0049);">8 Lembaga Terdaftar</span>
<span class="t" style="left:700.40px;top:2124.29px;font-size:26px;color:#4b5675;transform:scaleX(1.0367);">Lembaga</span>
<span class="t" style="left:1110.90px;top:2124.29px;font-size:26px;color:#4b5675;transform:scaleX(1.0601);">Anggota</span>
<span class="t" style="left:792.50px;top:2245.82px;font-size:28.8px;color:#071437;transform:scaleX(1.0294);-webkit-text-stroke:0.5px #071437;">TK Digital Indonesia</span>
<span class="t" style="left:1165.70px;top:2245.82px;font-size:28.8px;color:#071437;transform:scaleX(1.0053);-webkit-text-stroke:0.5px #071437;">150</span>
<span class="t" style="left:792.50px;top:2352.82px;font-size:28.8px;color:#071437;transform:scaleX(1.0233);-webkit-text-stroke:0.5px #071437;">SD Digital Indonesia</span>
<span class="t" style="left:1162.20px;top:2352.82px;font-size:28.8px;color:#071437;transform:scaleX(1.0781);-webkit-text-stroke:0.5px #071437;">450</span>
<span class="t" style="left:792.50px;top:2459.82px;font-size:28.8px;color:#071437;transform:scaleX(1.0233);-webkit-text-stroke:0.5px #071437;">SMP Digital Indonesia</span>
<span class="t" style="left:1162.20px;top:2459.82px;font-size:28.8px;color:#071437;transform:scaleX(1.0781);-webkit-text-stroke:0.5px #071437;">800</span>
<span class="t" style="left:792.50px;top:2566.82px;font-size:28.8px;color:#071437;transform:scaleX(1.0318);-webkit-text-stroke:0.5px #071437;">SMA Digital Indonesia</span>
<span class="t" style="left:1142.40px;top:2566.82px;font-size:28.8px;color:#071437;transform:scaleX(0.9934);-webkit-text-stroke:0.5px #071437;">1.050</span>
<span class="t" style="left:1480.40px;top:1983.59px;font-size:33.8px;color:#071437;font-weight:700;transform:scaleX(0.9656);">Metode Pembayaran</span>
<span class="t" style="left:1480.40px;top:2031.11px;font-size:25.5px;color:#252f4a;transform:scaleX(0.9903);">10 Metode pembayaran pada bulan ini</span>
<span class="t" style="left:1480.40px;top:2124.29px;font-size:26px;color:#4b5675;transform:scaleX(1.0780);">Metode</span>
<span class="t" style="left:1752.00px;top:2124.29px;font-size:26px;color:#4b5675;transform:scaleX(1.0743);">Total</span>
<span class="t" style="left:1980.50px;top:2124.29px;font-size:26px;color:#4b5675;transform:scaleX(1.0349);">Nominal</span>
<span class="t" style="left:1480.40px;top:2223.85px;font-size:29px;color:#071437;transform:scaleX(0.9453);-webkit-text-stroke:0.5px #071437;">BNI</span>
<span class="t" style="left:1757.80px;top:2223.85px;font-size:29px;color:#071437;transform:scaleX(0.9795);-webkit-text-stroke:0.5px #071437;">150</span>
<span class="t" style="left:1874.10px;top:2223.85px;font-size:29px;color:#071437;transform:scaleX(0.9912);-webkit-text-stroke:0.5px #071437;">120JT</span>
<span class="t" style="left:2013.00px;top:2223.35px;font-size:29px;color:#252f4a;transform:scaleX(0.9560);-webkit-text-stroke:0.3px #252f4a;">3.9%</span>
<span class="t" style="left:1480.40px;top:2284.45px;font-size:29px;color:#071437;transform:scaleX(0.9574);-webkit-text-stroke:0.5px #071437;">BCA</span>
<span class="t" style="left:1765.05px;top:2284.45px;font-size:29px;color:#071437;transform:scaleX(1.0197);-webkit-text-stroke:0.5px #071437;">98</span>
<span class="t" style="left:1850.00px;top:2284.45px;font-size:29px;color:#071437;transform:scaleX(0.9924);-webkit-text-stroke:0.5px #071437;">122.5JT</span>
<span class="t" style="left:2013.00px;top:2283.95px;font-size:29px;color:#252f4a;transform:scaleX(0.9499);-webkit-text-stroke:0.3px #252f4a;">2.3%</span>
<span class="t" style="left:1480.40px;top:2345.05px;font-size:29px;color:#071437;transform:scaleX(0.9198);-webkit-text-stroke:0.5px #071437;">BSI</span>
<span class="t" style="left:1765.70px;top:2345.05px;font-size:29px;color:#071437;transform:scaleX(0.9794);-webkit-text-stroke:0.5px #071437;">74</span>
<span class="t" style="left:1887.30px;top:2345.05px;font-size:29px;color:#071437;transform:scaleX(1.0344);-webkit-text-stroke:0.5px #071437;">83JT</span>
<span class="t" style="left:2013.00px;top:2344.55px;font-size:29px;color:#252f4a;transform:scaleX(0.9303);-webkit-text-stroke:0.3px #252f4a;">0.7%</span>
<span class="t" style="left:1480.40px;top:2405.65px;font-size:29px;color:#071437;transform:scaleX(1.0390);-webkit-text-stroke:0.5px #071437;">Mandiri</span>
<span class="t" style="left:1765.05px;top:2405.65px;font-size:29px;color:#071437;transform:scaleX(1.0197);-webkit-text-stroke:0.5px #071437;">66</span>
<span class="t" style="left:1846.90px;top:2405.65px;font-size:29px;color:#071437;transform:scaleX(1.0220);-webkit-text-stroke:0.5px #071437;">49.75JT</span>
<span class="t" style="left:2013.00px;top:2405.15px;font-size:29px;color:#252f4a;transform:scaleX(0.8698);-webkit-text-stroke:0.3px #252f4a;">1.5%</span>
<span class="t" style="left:1480.40px;top:2466.25px;font-size:29px;color:#071437;transform:scaleX(1.0385);-webkit-text-stroke:0.5px #071437;">Kartu</span>
<span class="t" style="left:1766.80px;top:2466.25px;font-size:29px;color:#071437;transform:scaleX(0.9112);-webkit-text-stroke:0.5px #071437;">61</span>
<span class="t" style="left:1887.30px;top:2466.25px;font-size:29px;color:#071437;transform:scaleX(1.0344);-webkit-text-stroke:0.5px #071437;">66JT</span>
<span class="t" style="left:2013.00px;top:2465.75px;font-size:29px;color:#252f4a;transform:scaleX(0.9499);-webkit-text-stroke:0.3px #252f4a;">0.5%</span>
<span class="t" style="left:1480.40px;top:2526.85px;font-size:29px;color:#071437;transform:scaleX(1.0204);-webkit-text-stroke:0.5px #071437;">Cazhbox</span>
<span class="t" style="left:1765.70px;top:2526.85px;font-size:29px;color:#071437;transform:scaleX(0.9794);-webkit-text-stroke:0.5px #071437;">37</span>
<span class="t" style="left:1887.70px;top:2526.85px;font-size:29px;color:#071437;transform:scaleX(1.0282);-webkit-text-stroke:0.5px #071437;">38JT</span>
<span class="t" style="left:2013.00px;top:2526.35px;font-size:29px;color:#252f4a;transform:scaleX(0.9560);-webkit-text-stroke:0.3px #252f4a;">0.3%</span>
<span class="t" style="left:1480.40px;top:2587.45px;font-size:29px;color:#071437;transform:scaleX(1.0529);-webkit-text-stroke:0.5px #071437;">Alfamart</span>
<span class="t" style="left:1765.50px;top:2587.45px;font-size:29px;color:#071437;transform:scaleX(0.9918);-webkit-text-stroke:0.5px #071437;">25</span>
<span class="t" style="left:1887.70px;top:2587.45px;font-size:29px;color:#071437;transform:scaleX(1.0282);-webkit-text-stroke:0.5px #071437;">23JT</span>
<span class="t" style="left:2013.00px;top:2586.95px;font-size:29px;color:#252f4a;transform:scaleX(0.7775);-webkit-text-stroke:0.3px #252f4a;">1.1%</span>
<span class="t" style="left:2260.40px;top:1983.59px;font-size:33.8px;color:#071437;font-weight:700;transform:scaleX(0.9575);">Transaksi Terakhir</span>
<span class="t" style="left:2260.40px;top:2031.11px;font-size:25.5px;color:#252f4a;transform:scaleX(0.9830);">100 Transaksi bulan ini</span>
<span class="t" style="left:2316.50px;top:2143.35px;font-size:30.3px;color:#252f4a;transform:scaleX(0.9834);">Jumat, 18 Juli 2025 03:53</span>
<span class="t" style="left:2316.50px;top:2183.81px;font-size:25.5px;color:#78829d;transform:scaleX(0.9896);">#PAY175278560338</span>
<span class="t" style="left:2336.30px;top:2239.58px;font-size:25.3px;color:#252f4a;transform:scaleX(0.9853);">Pembayaran BUKU. Tagihan (5 5 Abu Bakar</span>
<span class="t" style="left:2336.30px;top:2271.58px;font-size:25.3px;color:#252f4a;transform:scaleX(0.9956);">Ash Sidiq) Buku SM 1 TP 2024-2025 Invoice</span>
<span class="t" style="left:2336.30px;top:2303.58px;font-size:25.3px;color:#252f4a;transform:scaleX(0.9916);">No. INV1725251861823 dengan metode</span>
<span class="t" style="left:2336.30px;top:2335.58px;font-size:25.3px;color:#252f4a;transform:scaleX(0.9693);">CazhBox</span>
<span class="t" style="left:2316.50px;top:2419.35px;font-size:30.3px;color:#252f4a;transform:scaleX(0.9857);">Jumat, 18 Juli 2025 03:49</span>
<span class="t" style="left:2316.50px;top:2459.81px;font-size:25.5px;color:#78829d;transform:scaleX(0.9896);">#PAY175278534246</span>
<span class="t" style="left:2336.30px;top:2515.58px;font-size:25.3px;color:#252f4a;transform:scaleX(0.9796);">1. Pembayaran SPP. Tagihan (4 4 Khalid Bin</span>
<span class="t" style="left:2336.30px;top:2547.58px;font-size:25.3px;color:#252f4a;transform:scaleX(0.9874);">Walid) SPP Juni 2025 Invoice No.</span>
<span class="t" style="left:2336.30px;top:2579.58px;font-size:25.3px;color:#252f4a;transform:scaleX(1.0025);">INV1748998710542 dengan metode</span>
<span class="t" style="left:2336.30px;top:2611.58px;font-size:25.3px;color:#252f4a;transform:scaleX(0.9649);">CazhBox dan 2. Pembayaran SPP. Tagihan</span>
</div></body></html>
